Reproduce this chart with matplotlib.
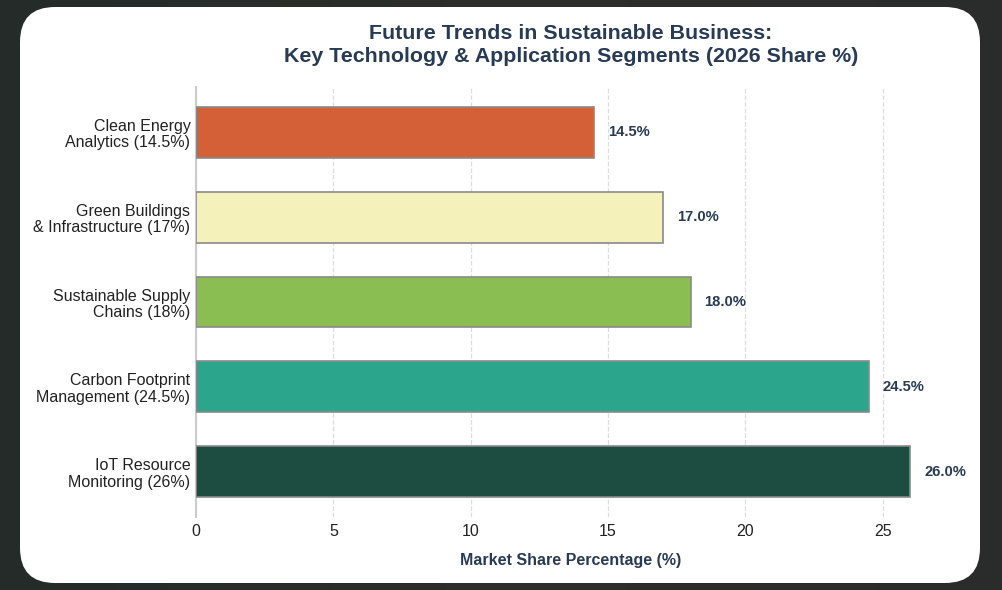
import matplotlib
matplotlib.use("Agg")
import matplotlib.pyplot as plt
import numpy as np
from matplotlib.patches import FancyBboxPatch

plt.rcParams["font.family"] = ["Liberation Sans", "DejaVu Sans"]

# 데이터 (아래에서 위 순서)
segments = ["IoT Resource\nMonitoring (26%)",
            "Carbon Footprint\nManagement (24.5%)",
            "Sustainable Supply\nChains (18%)",
            "Green Buildings\n& Infrastructure (17%)",
            "Clean Energy\nAnalytics (14.5%)"]
shares = [26.0, 24.5, 18.0, 17.0, 14.5]
colors = ["#1C4D40", "#2CA58D", "#8BBE52", "#F5F1BA", "#D46038"]
xticks = [0, 5, 10, 15, 20, 25]

NAVY = "#283B55"

fig = plt.figure(figsize=(10.02, 5.9), dpi=100)
fig.patch.set_facecolor("#2B2C2A")

# 어두운 배경 그라데이션
bg = fig.add_axes([0, 0, 1, 1], zorder=-2)
grad = np.linspace(0, 1, 256)[None, :]
bg.imshow(grad, aspect="auto", extent=[0, 1, 0, 1],
          cmap=matplotlib.colors.LinearSegmentedColormap.from_list(
              "bg", ["#252B29", "#2E2E2C", "#2A2C2B"]))
bg.axis("off")

# 흰색 둥근 카드
card = FancyBboxPatch((20 / 1002, 7 / 590), 960 / 1002, 576 / 590,
                      boxstyle="round,pad=0,rounding_size=0.035",
                      transform=fig.transFigure, facecolor="white",
                      edgecolor="none", zorder=-1, mutation_aspect=1002 / 590)
fig.patches.append(card)

ax = fig.add_axes([196 / 1002, 1 - 517 / 590, 750 / 1002, 430 / 590])
ax.set_facecolor("white")
y = np.arange(len(segments))
ax.barh(y, shares, height=0.6, color=colors, edgecolor="#8A8A8A",
        linewidth=1.2, zorder=3)
for yi, v in zip(y, shares):
    ax.text(v + 0.5, yi, f"{v:.1f}%", va="center", ha="left",
            fontsize=10.6, fontweight="bold", color=NAVY)

ax.set_yticks(y)
ax.set_yticklabels(segments, fontsize=11.5, color="#222222",
                   linespacing=1.12)
ax.set_xticks(xticks)
ax.tick_params(axis="x", labelsize=11.5, colors="#222222", length=0, pad=5)
ax.tick_params(axis="y", length=0, pad=4)
ax.set_xlim(0, 27.3)
ax.set_ylim(-0.53, 4.53)
ax.grid(axis="x", color="#DDDDDD", linestyle="--", linewidth=0.9, zorder=0)
for s in ["top", "right", "bottom"]:
    ax.spines[s].set_visible(False)
ax.spines["left"].set_color("#CCCCCC")
ax.spines["left"].set_linewidth(1.5)
ax.set_xlabel("Market Share Percentage (%)", fontsize=11.5, fontweight="bold",
              color=NAVY, labelpad=10)
ax.set_title("Future Trends in Sustainable Business:\n"
             "Key Technology & Application Segments (2026 Share %)",
             fontsize=15.4, fontweight="bold", color=NAVY, pad=18,
             linespacing=1.25)

fig.savefig("out.png", dpi=100, facecolor=fig.get_facecolor())
